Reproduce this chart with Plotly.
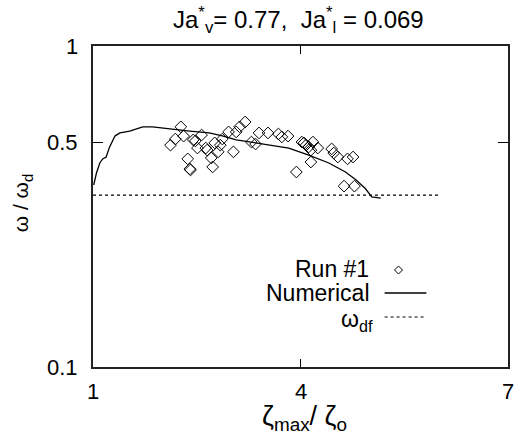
import math
import plotly.graph_objects as go

# Experimental data (Run #1)
run_x = [2.12, 2.19, 2.27, 2.31, 2.37, 2.40, 2.41, 2.45, 2.48, 2.51, 2.57, 2.63, 2.65,
         2.71, 2.73, 2.76, 2.81, 2.84, 2.87, 2.96, 3.03, 3.07, 3.12, 3.20, 3.29, 3.35,
         3.40, 3.53, 3.68, 3.73, 3.82, 3.94, 4.02, 4.05, 4.08, 4.12, 4.15, 4.18, 4.25,
         4.15, 4.45, 4.48, 4.54, 4.68, 4.76, 4.63, 4.78]
run_y = [0.491, 0.513, 0.560, 0.524, 0.445, 0.414, 0.411, 0.510, 0.506, 0.481, 0.528, 0.481, 0.474,
         0.448, 0.420, 0.499, 0.468, 0.491, 0.513, 0.540, 0.468, 0.540, 0.560, 0.580, 0.502, 0.495,
         0.536, 0.536, 0.532, 0.521, 0.524, 0.405, 0.502, 0.499, 0.491, 0.485, 0.474, 0.502, 0.481,
         0.435, 0.478, 0.464, 0.451, 0.445, 0.451, 0.366, 0.366]

# Numerical curve
num_x = [1.01, 1.05, 1.10, 1.14, 1.19, 1.24, 1.32, 1.39, 1.53, 1.72, 1.86, 2.11, 2.40,
         2.68, 2.87, 3.07, 3.26, 3.55, 3.83, 4.12, 4.41, 4.65, 4.80, 4.94, 5.03, 5.16]
num_y = [0.369, 0.402, 0.433, 0.445, 0.451, 0.485, 0.525, 0.536, 0.543, 0.560, 0.560, 0.551, 0.543,
         0.536, 0.525, 0.510, 0.502, 0.492, 0.481, 0.457, 0.432, 0.405, 0.383, 0.359, 0.339, 0.336]

# omega_df level
wdf_x = [1.0, 6.0]
wdf_y = [0.343, 0.343]

x_ticks = [1, 4, 7]
x_ticktext = ["1", "4", "7"]
y_ticks = [0.1, 0.5, 1]
y_ticktext = ["0.1", "0.5", "1"]

FONT = "Liberation Sans, Arial, sans-serif"

fig = go.Figure()
fig.add_trace(go.Scatter(x=num_x, y=num_y, mode="lines",
                         line=dict(color="black", width=1.3), showlegend=False))
fig.add_trace(go.Scatter(x=wdf_x, y=wdf_y, mode="lines",
                         line=dict(color="black", width=1.2, dash="dot"), showlegend=False))
fig.add_trace(go.Scatter(x=run_x, y=run_y, mode="markers",
                         marker=dict(symbol="diamond-open", size=9, color="black",
                                     line=dict(width=1, color="black")),
                         showlegend=False))

L, R, T, B = 93, 510, 46, 367
W, H = R - L, B - T

def px(x):
    return (x - L) / W

def py(y):
    return (B - y) / H

tickfont = dict(size=22, family=FONT, color="black")

annotations = []
for v, t in zip(x_ticks, x_ticktext):
    annotations.append(dict(text=t, xref="x", yref="paper", x=v, y=py(392), showarrow=False,
                            xanchor="center", yanchor="middle", font=tickfont))
for v, t in zip(y_ticks, y_ticktext):
    annotations.append(dict(text=t, xref="paper", yref="y", x=px(80), y=math.log10(v),
                            showarrow=False, xanchor="right", yanchor="middle", font=tickfont))

annotations += [
    dict(text="Ja<sup>*</sup><sub>v</sub>= 0.77,\u00a0 Ja<sup>*</sup><sub>l</sub> = 0.069",
         xref="paper", yref="paper", x=px(299), y=py(20), showarrow=False,
         xanchor="center", yanchor="middle", font=dict(size=24, family=FONT, color="black")),
    dict(text="ζ<sub>max</sub>/ ζ<sub>o</sub>", xref="paper", yref="paper",
         x=px(306), y=py(418), showarrow=False, font=dict(size=27, family=FONT, color="black"),
         xanchor="center", yanchor="middle"),
    dict(text="ω / ω<sub>d</sub>", xref="paper", yref="paper",
         x=px(22), y=py(203), showarrow=False, textangle=-90,
         font=dict(size=21, family=FONT, color="black"), xanchor="center", yanchor="middle"),
    dict(text="Run #1", xref="paper", yref="paper", x=px(372), y=py(269), showarrow=False,
         xanchor="right", yanchor="middle", font=dict(size=23, family=FONT, color="black")),
    dict(text="Numerical", xref="paper", yref="paper", x=px(373), y=py(293), showarrow=False,
         xanchor="right", yanchor="middle", font=dict(size=23, family=FONT, color="black")),
    dict(text="ω<sub>df</sub>", xref="paper", yref="paper", x=px(376), y=py(320), showarrow=False,
         xanchor="right", yanchor="middle", font=dict(size=23, family=FONT, color="black")),
]

dx, dy = 4 / W, 4 / H
cx, cy = px(400), py(270)
shapes = [
    dict(type="path", xref="paper", yref="paper",
         path=f"M {cx},{cy+dy} L {cx+dx},{cy} L {cx},{cy-dy} L {cx-dx},{cy} Z",
         line=dict(color="black", width=1)),
    dict(type="line", xref="paper", yref="paper", x0=px(386), x1=px(428), y0=py(293), y1=py(293),
         line=dict(color="black", width=1.3)),
    dict(type="line", xref="paper", yref="paper", x0=px(386), x1=px(428), y0=py(317), y1=py(317),
         line=dict(color="black", width=1.2, dash="dot")),
]

fig.update_layout(
    width=516, height=440,
    margin=dict(l=L, r=516 - R, t=T, b=440 - B),
    paper_bgcolor="white", plot_bgcolor="white",
    font=dict(family=FONT, color="black", size=20),
    xaxis=dict(range=[1, 7], tickvals=x_ticks, ticks="inside", ticklen=8,
               tickcolor="black", showline=True, linecolor="#222", linewidth=2,
               mirror="ticks", showgrid=False, zeroline=False, showticklabels=False),
    yaxis=dict(type="log", range=[-1, 0], tickvals=y_ticks,
               ticks="inside", ticklen=10, tickcolor="black", showline=True,
               linecolor="#222", linewidth=2, mirror="ticks", showgrid=False,
               zeroline=False, showticklabels=False),
    annotations=annotations,
    shapes=shapes,
    showlegend=False,
)

fig.write_html("out.html", config={"displayModeBar": False},
               post_script="document.body.style.margin='0';document.body.style.overflow='hidden';")
